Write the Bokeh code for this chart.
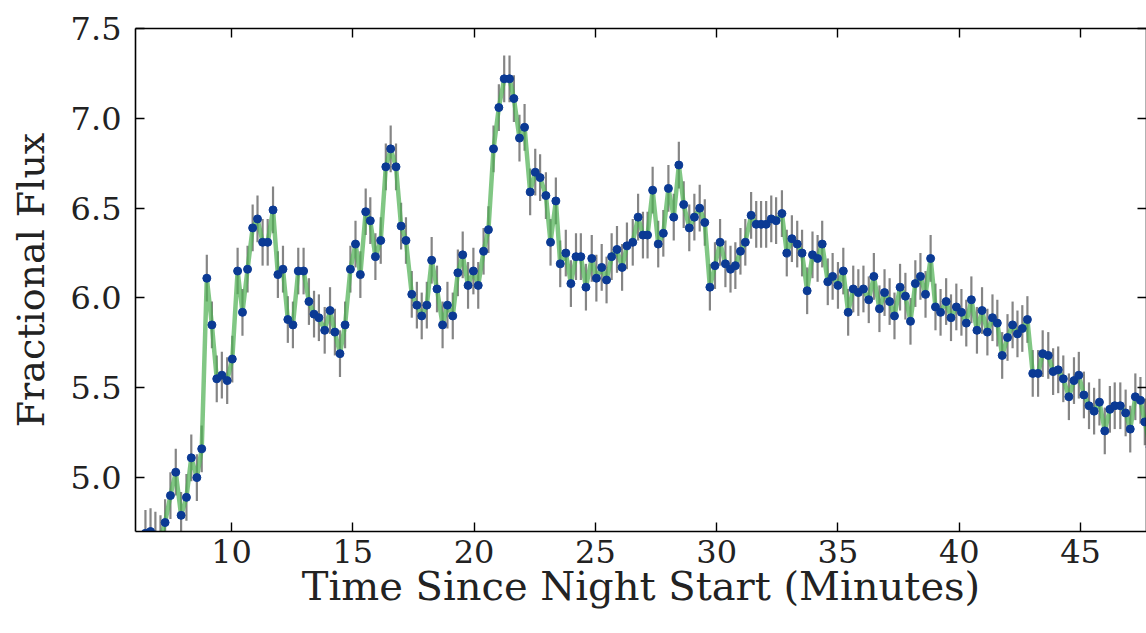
from bokeh.plotting import figure
from bokeh.models import LinearAxis, FixedTicker, PrintfTickFormatter, Range1d, CustomJSTickFormatter
from bokeh.embed import file_html
from bokeh.resources import INLINE

# Time since night start (minutes)
time_min = [
    6.45, 6.66, 6.86, 7.07, 7.26, 7.48, 7.70, 7.92, 8.14, 8.34,
    8.57, 8.77, 8.98, 9.19, 9.39, 9.60, 9.82, 10.03, 10.25, 10.45,
    10.66, 10.87, 11.07, 11.28, 11.49, 11.71, 11.91, 12.12, 12.32, 12.53,
    12.75, 12.97, 13.19, 13.40, 13.60, 13.84, 14.06, 14.26, 14.47, 14.68,
    14.90, 15.11, 15.31, 15.53, 15.72, 15.93, 16.15, 16.36, 16.56, 16.78,
    16.99, 17.19, 17.43, 17.64, 17.84, 18.05, 18.25, 18.47, 18.70, 18.90,
    19.12, 19.33, 19.53, 19.75, 19.97, 20.17, 20.39, 20.59, 20.80, 21.02,
    21.24, 21.46, 21.64, 21.87, 22.08, 22.31, 22.52, 22.72, 22.96, 23.15,
    23.37, 23.55, 23.78, 23.99, 24.20, 24.40, 24.61, 24.85, 25.04, 25.26,
    25.46, 25.67, 25.89, 26.10, 26.30, 26.54, 26.76, 26.96, 27.15, 27.36,
    27.59, 27.80, 28.01, 28.23, 28.44, 28.64, 28.87, 29.08, 29.30, 29.51,
    29.72, 29.93, 30.14, 30.36, 30.57, 30.77, 30.98, 31.18, 31.42, 31.63,
    31.83, 32.04, 32.25, 32.45, 32.69, 32.89, 33.10, 33.32, 33.52, 33.73,
    33.95, 34.16, 34.35, 34.58, 34.78, 35.00, 35.22, 35.42, 35.63, 35.84,
    36.05, 36.27, 36.48, 36.71, 36.92, 37.13, 37.33, 37.56, 37.78, 37.99,
    38.19, 38.40, 38.61, 38.82, 39.02, 39.23, 39.46, 39.66, 39.88, 40.09,
    40.29, 40.50, 40.73, 40.94, 41.16, 41.37, 41.57, 41.77, 41.99, 42.20,
    42.40, 42.60, 42.81, 43.03, 43.25, 43.44, 43.67, 43.87, 44.08, 44.29,
    44.52, 44.73, 44.93, 45.14, 45.35, 45.56, 45.78, 46.00, 46.21, 46.41,
    46.64, 46.86, 47.05, 47.26, 47.47, 47.65, 47.87,
]

# Fractional flux
flux = [
    4.69, 4.70, 4.68, 4.66, 4.75, 4.90, 5.03, 4.79, 4.89, 5.11,
    5.00, 5.16, 6.11, 5.85, 5.55, 5.57, 5.54, 5.66, 6.15, 5.92,
    6.16, 6.39, 6.44, 6.31, 6.31, 6.49, 6.13, 6.16, 5.88, 5.85,
    6.15, 6.15, 5.98, 5.91, 5.89, 5.82, 5.93, 5.81, 5.69, 5.85,
    6.16, 6.30, 6.13, 6.48, 6.43, 6.23, 6.32, 6.73, 6.83, 6.73,
    6.40, 6.32, 6.02, 5.96, 5.90, 5.96, 6.21, 6.05, 5.85, 5.96,
    5.90, 6.14, 6.24, 6.07, 6.15, 6.07, 6.26, 6.38, 6.83, 7.06,
    7.22, 7.22, 7.11, 6.89, 6.95, 6.59, 6.70, 6.67, 6.57, 6.31,
    6.54, 6.19, 6.25, 6.08, 6.23, 6.23, 6.06, 6.22, 6.11, 6.17,
    6.10, 6.23, 6.27, 6.17, 6.29, 6.31, 6.45, 6.35, 6.35, 6.60,
    6.30, 6.36, 6.61, 6.45, 6.74, 6.52, 6.39, 6.45, 6.50, 6.42,
    6.06, 6.18, 6.31, 6.19, 6.16, 6.18, 6.26, 6.31, 6.46, 6.41,
    6.41, 6.41, 6.44, 6.43, 6.47, 6.25, 6.33, 6.30, 6.25, 6.04,
    6.24, 6.22, 6.30, 6.09, 6.12, 6.07, 6.15, 5.92, 6.05, 6.03,
    6.05, 5.99, 6.12, 5.94, 6.03, 5.98, 5.90, 6.06, 6.01, 5.87,
    6.08, 6.12, 6.02, 6.22, 5.95, 5.92, 5.98, 5.89, 5.95, 5.92,
    5.86, 5.99, 5.82, 5.93, 5.81, 5.89, 5.86, 5.68, 5.78, 5.85,
    5.80, 5.83, 5.88, 5.58, 5.58, 5.69, 5.68, 5.59, 5.60, 5.55,
    5.45, 5.54, 5.57, 5.46, 5.40, 5.37, 5.42, 5.26, 5.38, 5.40,
    5.40, 5.36, 5.27, 5.45, 5.43, 5.31, 5.17,
]

flux_err = 0.13

x_ticks = [10, 15, 20, 25, 30, 35, 40, 45]
y_ticks = [5.0, 5.5, 6.0, 6.5, 7.0, 7.5]

n = min(len(time_min), len(flux))
t = time_min[:n]
f = flux[:n]
lo = [v - flux_err for v in f]
hi = [v + flux_err for v in f]

FONT = "DejaVu Serif"

p = figure(width=1146, height=633, output_backend="svg", toolbar_location=None,
           x_range=Range1d(6.04, 47.72), y_range=Range1d(4.70, 7.50),
           min_border_left=135, min_border_right=0, min_border_top=28,
           min_border_bottom=102, x_axis_location=None, y_axis_location=None)
p.grid.visible = False
p.outline_line_color = None
p.background_fill_color = "white"
p.border_fill_color = "white"

p.segment(x0=t, y0=lo, x1=t, y1=hi, line_color="#858585", line_width=2.2)
p.line(t, f, line_color="#4caf50", line_width=4.5, line_alpha=0.7)
p.scatter(t, f, size=8, fill_color="#0b3a94", line_color="#0b3a94")


def style(ax, show):
    ax.axis_line_color = "black"
    ax.axis_line_width = 1.6
    ax.major_tick_line_color = "black"
    ax.major_tick_line_width = 1.4
    ax.major_tick_in = 9
    ax.major_tick_out = 0
    ax.minor_tick_line_color = None
    ax.major_label_text_font = FONT
    ax.major_label_text_color = "#222222"
    if not show:
        ax.formatter = CustomJSTickFormatter(code="return '';")
        ax.major_label_standoff = 0


bottom = LinearAxis(ticker=FixedTicker(ticks=x_ticks),
                    formatter=PrintfTickFormatter(format="%d"),
                    axis_label="Time Since Night Start (Minutes)")
style(bottom, True)
bottom.major_label_text_font_size = "32px"
bottom.major_label_standoff = 8
bottom.axis_label_text_font = FONT
bottom.axis_label_text_font_size = "40px"
bottom.axis_label_text_font_style = "normal"
bottom.axis_label_text_color = "#222222"
bottom.axis_label_standoff = -3
p.add_layout(bottom, "below")

left = LinearAxis(ticker=FixedTicker(ticks=y_ticks),
                  formatter=PrintfTickFormatter(format="%.1f"),
                  axis_label="Fractional Flux")
style(left, True)
left.major_label_text_font_size = "32px"
left.major_label_standoff = 14
left.axis_label_text_font = FONT
left.axis_label_text_font_size = "38px"
left.axis_label_text_font_style = "normal"
left.axis_label_text_color = "#222222"
left.axis_label_standoff = 15
p.add_layout(left, "left")

top = LinearAxis(ticker=FixedTicker(ticks=x_ticks))
style(top, False)
p.add_layout(top, "above")

right = LinearAxis(ticker=FixedTicker(ticks=y_ticks))
style(right, False)
p.add_layout(right, "right")

open("out.html", "w").write(file_html(p, INLINE))
